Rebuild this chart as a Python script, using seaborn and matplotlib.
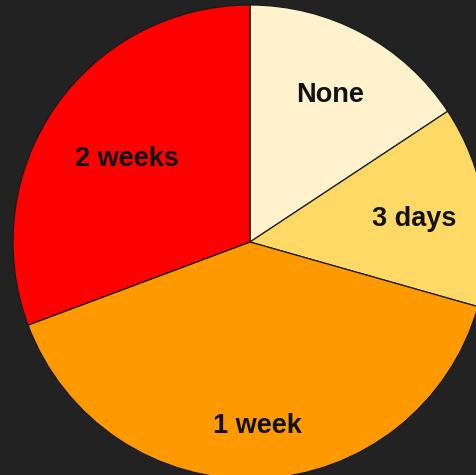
import numpy as np
import matplotlib
matplotlib.use("Agg")
import matplotlib.pyplot as plt
import seaborn as sns

# Share of responses per waiting period (percent)
categories = ["None", "3 days", "1 week", "2 weeks"]
shares = [15.7, 13.7, 39.9, 30.7]
colors = ["#FFF2CC", "#FFD966", "#FF9900", "#FF0000"]
# radial placement of each label as a fraction of the radius
label_radii = [0.715, 0.70, 0.77, 0.63]

sns.set_theme(style="white")
plt.rcParams["font.family"] = ["Liberation Sans", "DejaVu Sans"]

bg = "#222222"
fig = plt.figure(figsize=(4.76, 4.75), dpi=100, facecolor=bg)
ax = fig.add_axes([13 / 476, (475 - 479) / 475, 474 / 476, 474 / 475])
ax.set_facecolor(bg)

wedges, texts = ax.pie(
    shares,
    labels=categories,
    colors=colors,
    startangle=90,
    counterclock=False,
    labeldistance=0.7,
    wedgeprops=dict(edgecolor="#1a1a1a", linewidth=0.9),
    textprops=dict(fontsize=19.5, fontweight="bold", color="#111111"),
)

for w, t, r in zip(wedges, texts, label_radii):
    mid = np.deg2rad((w.theta1 + w.theta2) / 2)
    t.set_position((r * np.cos(mid), r * np.sin(mid) - 0.009))
    t.set_ha("center")
    t.set_va("center")

ax.set_xlim(-1, 1)
ax.set_ylim(-1, 1)
ax.set_aspect("equal")
ax.axis("off")

fig.savefig("out.png", dpi=100, facecolor=bg)
